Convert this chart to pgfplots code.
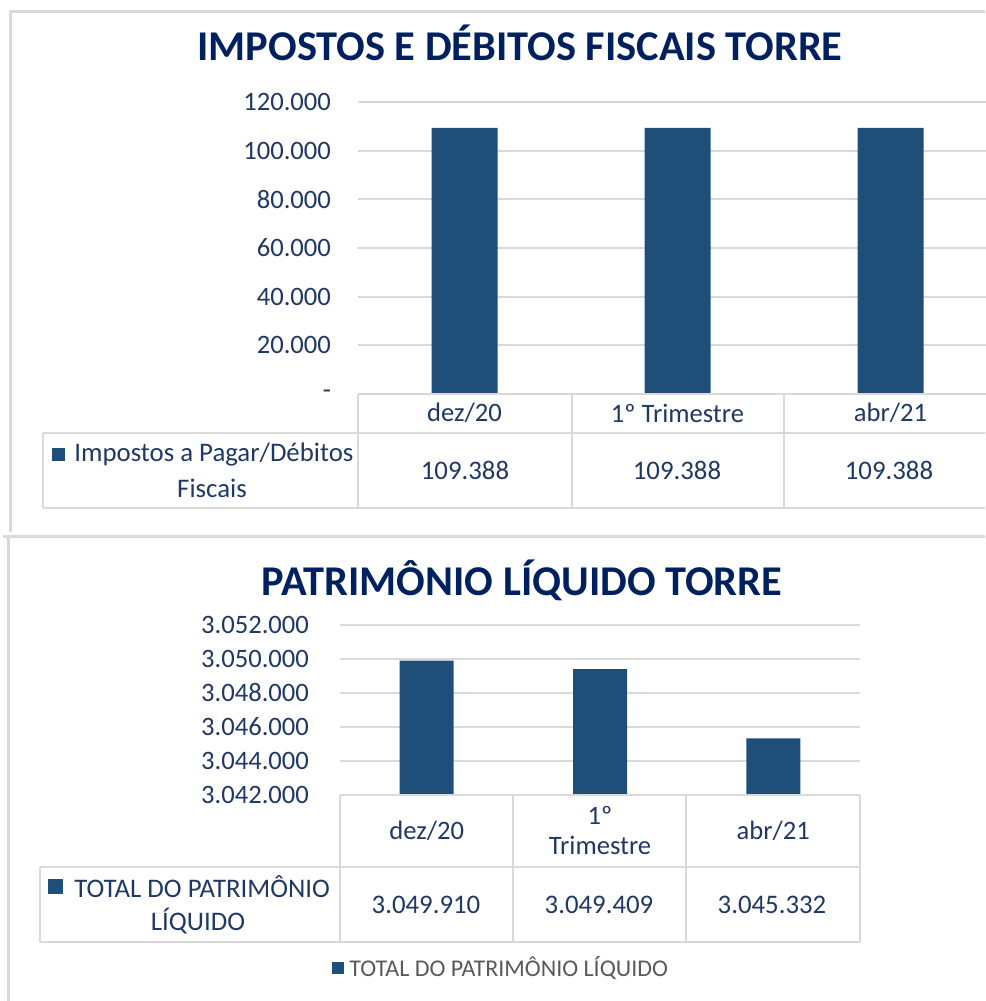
\documentclass[border=0pt]{standalone}
\usepackage{fontspec}
\setmainfont{Carlito}
\usepackage{pgfplots}
\pgfplotsset{compat=1.18}

\definecolor{barblue}{HTML}{1F4E79}
\definecolor{titleblue}{HTML}{002060}
\definecolor{textblue}{HTML}{1F3864}
\definecolor{gridgray}{HTML}{D9D9D9}
\definecolor{legendgray}{HTML}{595959}

\pgfplotsset{
  panel/.style={
    scale only axis,
    scaled ticks=false,
    ybar, bar shift=0pt,
    xmin=-0.5, xmax=2.5,
    xtick={0,1,2},
    major tick length=0pt,
    axis line style={draw=none},
    ymajorgrids,
    grid style={gridgray, line width=1pt},
    tick label style={font=\fontsize{13.3}{15}\selectfont, text=textblue},
    xticklabel style={anchor=center, align=center},
    yticklabel style={anchor=east},
  },
}

\begin{document}
\begin{tikzpicture}[x=0.5pt, y=0.5pt]
\tikzset{frame/.style={draw=gridgray, line width=1.5pt},
         cell/.style={draw=gridgray, line width=1pt},
         txt/.style={font=\fontsize{13.4}{15}\selectfont, text=textblue, inner sep=0pt}}

% ---- top chart ----
\draw[frame] (10,469) -- (10,989) -- (985,989);
\node[font=\fontsize{21.2}{24}\selectfont\bfseries, text=titleblue] at (520,958)
  {IMPOSTOS E DÉBITOS FISCAIS TORRE};

\coordinate (A) at (358,607);
\begin{axis}[panel,
    at={(A)}, anchor=south west,
    width=319.5pt, height=146pt,
    ymin=0, ymax=120000,
    ytick={0,20000,40000,60000,80000,100000,120000},
    yticklabels={{-\hspace{6pt}},20.000,40.000,60.000,80.000,100.000,120.000},
    yticklabel style={xshift=-10pt},
    xticklabels={dez/20,1º Trimestre,abr/21},
    xticklabel style={yshift=-9.5pt},
    bar width=33pt,
]
\addplot[fill=barblue, draw=none] coordinates {(0,109388) (1,109388) (2,109388)};
\end{axis}

\draw[cell] (358,607) -- (985,607);
\draw[cell] (43,568) -- (985,568);
\draw[cell] (43,493) -- (985,493);
\foreach \x in {358,572,784} \draw[cell] (\x,607) -- (\x,493);
\draw[cell] (43,568) -- (43,493);

\fill[barblue] (52,540) rectangle (65,553);
\node[txt, anchor=west] at (74,546) {Impostos a Pagar/Débitos};
\node[txt] at (212,513) {Fiscais};
\node[txt] at (465,531) {109.388};
\node[txt] at (677,531) {109.388};
\node[txt] at (889,531) {109.388};

% ---- bottom chart ----
\draw[frame] (3,464) -- (985,464);
\draw[frame] (8,464) -- (8,0);
\node[font=\fontsize{21.2}{24}\selectfont\bfseries, text=titleblue] at (522,421)
  {PATRIMÔNIO LÍQUIDO TORRE};

\coordinate (B) at (340,206);
\begin{axis}[panel,
    at={(B)}, anchor=south west,
    width=260pt, height=85pt,
    ymin=3042000, ymax=3052000,
    ytick={3042000,3044000,3046000,3048000,3050000,3052000},
    yticklabels={3.042.000,3.044.000,3.046.000,3.048.000,3.050.000,3.052.000},
    yticklabel style={xshift=-12pt},
    xticklabels={dez/20,{1º\\Trimestre},abr/21},
    xticklabel style={yshift=-18pt},
    bar width=27pt,
]
\addplot[fill=barblue, draw=none] coordinates {(0,3049910) (1,3049409) (2,3045332)};
\end{axis}

\draw[cell] (340,206) -- (860,206);
\draw[cell] (40,134) -- (860,134);
\draw[cell] (40,59) -- (860,59);
\foreach \x in {340,513,686,860} \draw[cell] (\x,206) -- (\x,59);
\draw[cell] (40,134) -- (40,59);

\fill[barblue] (48,107) rectangle (63,122);
\node[txt, anchor=west] at (74,114) {TOTAL DO PATRIMÔNIO};
\node[txt] at (198,80) {LÍQUIDO};
\node[txt] at (426,96) {3.049.910};
\node[txt] at (599,96) {3.049.409};
\node[txt] at (772,96) {3.045.332};

\fill[barblue] (332,27) rectangle (344,39);
\node[font=\fontsize{12}{14}\selectfont, text=legendgray, inner sep=0pt, anchor=west]
  at (349,33) {TOTAL DO PATRIMÔNIO LÍQUIDO};

\pgfresetboundingbox
\useasboundingbox (0,0) rectangle (985,1001);
\end{tikzpicture}
\end{document}
